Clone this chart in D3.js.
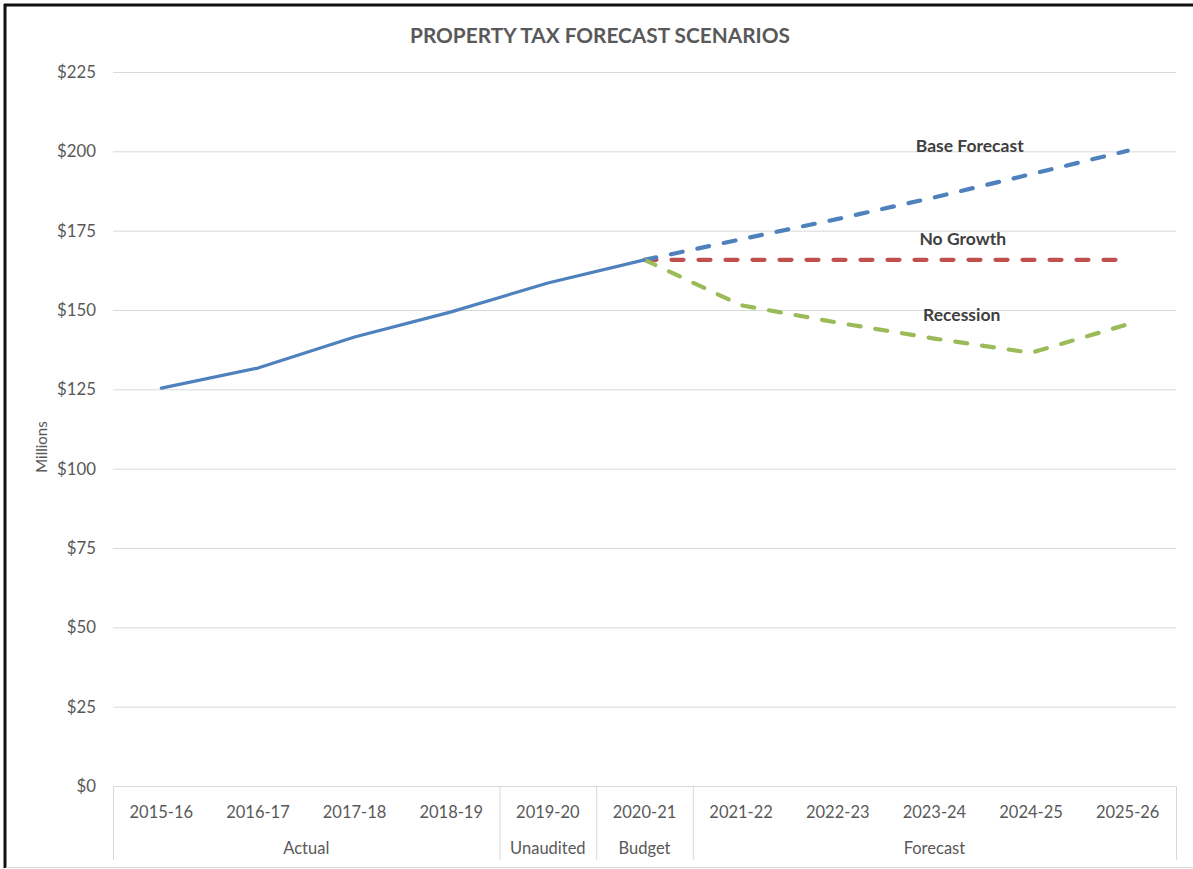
<!DOCTYPE html>
<html>
<head>
<meta charset="utf-8">
<script src="https://cdn.jsdelivr.net/npm/d3@7"></script>
<style>
  html, body { margin: 0; padding: 0; background: #fff; }
  svg text { font-family: Lato, "Open Sans", sans-serif; }
</style>
</head>
<body>
<div id="chart"></div>
<script>
// fiscal years shown on the x axis
var categories = ["2015-16", "2016-17", "2017-18", "2018-19", "2019-20", "2020-21",
                  "2021-22", "2022-23", "2023-24", "2024-25", "2025-26"];
var groupNames = ["Actual", "Unaudited", "Budget", "Forecast"];
var groupSpans = [4, 1, 1, 5];

// millions of dollars
var actual = [125.4, 131.7, 141.5, 149.4, 158.5, 165.8];
var forecastYears = ["2020-21", "2021-22", "2022-23", "2023-24", "2024-25", "2025-26"];
var baseForecast = [165.8, 172.3, 178.7, 185.5, 192.8, 200.2];
var noGrowth = [165.8, 165.8, 165.8, 165.8, 165.8, 165.8];
var recession = [165.8, 151.5, 146.0, 141.0, 136.5, 145.5];

var yTicks = [0, 25, 50, 75, 100, 125, 150, 175, 200, 225];

var W = 1193, H = 869;
var plotLeft = 113, plotRight = 1176, plotTop = 72, plotBottom = 786;

var svg = d3.select('#chart')
    .append('svg')
    .attr('width', W)
    .attr('height', H);

// outer frame
svg.append('line').attr('x1', 5).attr('x2', 5).attr('y1', 4).attr('y2', 868)
    .attr('stroke', '#111').attr('stroke-width', 3);
svg.append('line').attr('x1', 4).attr('x2', W).attr('y1', 5).attr('y2', 5)
    .attr('stroke', '#111').attr('stroke-width', 3);
svg.append('line').attr('x1', 6).attr('x2', W).attr('y1', 867.5).attr('y2', 867.5)
    .attr('stroke', '#d9d9d9').attr('stroke-width', 1);

var x = d3.scaleBand().domain(categories).range([plotLeft, plotRight]);
var y = d3.scaleLinear().domain([0, 225]).range([plotBottom, plotTop]);
function cx(c) { return x(c) + x.bandwidth() / 2; }

// title
svg.append('text')
    .attr('x', 600).attr('y', 43)
    .attr('text-anchor', 'middle')
    .attr('font-size', 20.8).attr('font-weight', 'bold')
    .attr('fill', '#595959')
    .text('PROPERTY TAX FORECAST SCENARIOS');

// gridlines + y labels
var yAxis = d3.axisLeft(y).tickValues(yTicks).tickSize(-(plotRight - plotLeft))
    .tickFormat(function(d) { return '$' + d; });
var gy = svg.append('g').attr('transform', 'translate(' + plotLeft + ',0)').call(yAxis);
gy.select('.domain').remove();
gy.selectAll('.tick line').attr('stroke', '#d9d9d9').attr('stroke-width', 1);
gy.selectAll('.tick text')
    .attr('x', -17)
    .attr('font-size', 16.8).attr('fill', '#595959')
    .style('font-family', 'Lato, sans-serif');

svg.append('text')
    .attr('transform', 'translate(47,447) rotate(-90)')
    .attr('text-anchor', 'middle')
    .attr('font-size', 15).attr('fill', '#595959')
    .text('Millions');

// category axis
svg.append('line').attr('x1', plotLeft).attr('x2', plotRight)
    .attr('y1', plotBottom + 0.5).attr('y2', plotBottom + 0.5)
    .attr('stroke', '#d9d9d9').attr('stroke-width', 1);

svg.selectAll('.cat')
    .data(categories)
    .enter()
    .append('text')
    .attr('class', 'cat')
    .attr('x', function(d) { return cx(d); })
    .attr('y', 818)
    .attr('text-anchor', 'middle')
    .attr('font-size', 16.5).attr('fill', '#595959')
    .text(function(d) { return d; });

var start = 0;
var bounds = [0];
groupSpans.forEach(function(s) { start += s; bounds.push(start); });
function edge(i) { return i < categories.length ? x(categories[i]) : plotRight; }

svg.selectAll('.sep')
    .data(bounds)
    .enter()
    .append('line')
    .attr('x1', function(i) { return edge(i) + 0.5; })
    .attr('x2', function(i) { return edge(i) + 0.5; })
    .attr('y1', plotBottom).attr('y2', 860)
    .attr('stroke', '#d9d9d9').attr('stroke-width', 1);

svg.selectAll('.grp')
    .data(groupNames)
    .enter()
    .append('text')
    .attr('x', function(d, i) { return (edge(bounds[i]) + edge(bounds[i + 1])) / 2; })
    .attr('y', 854)
    .attr('text-anchor', 'middle')
    .attr('font-size', 16.5).attr('fill', '#595959')
    .text(function(d) { return d; });

// series
var line = d3.line()
    .x(function(d) { return cx(d[0]); })
    .y(function(d) { return y(d[1]); });

function pairs(cats, vals) { return cats.map(function(c, i) { return [c, vals[i]]; }); }

svg.append('path')
    .attr('d', line(pairs(forecastYears, noGrowth)))
    .attr('fill', 'none').attr('stroke', '#c0504d').attr('stroke-width', 4.2)
    .attr('stroke-dasharray', '12,15').attr('stroke-linecap', 'round');

svg.append('path')
    .attr('d', line(pairs(forecastYears, baseForecast)))
    .attr('fill', 'none').attr('stroke', '#4f81bd').attr('stroke-width', 4.2)
    .attr('stroke-dasharray', '12,15').attr('stroke-linecap', 'round');

svg.append('path')
    .attr('d', line(pairs(forecastYears, recession)))
    .attr('fill', 'none').attr('stroke', '#9bbb59').attr('stroke-width', 4.2)
    .attr('stroke-dasharray', '12,15').attr('stroke-linecap', 'round');

svg.append('path')
    .attr('d', line(pairs(categories.slice(0, actual.length), actual)))
    .attr('fill', 'none').attr('stroke', '#4f81bd').attr('stroke-width', 3.2)
    .attr('stroke-linecap', 'round').attr('stroke-linejoin', 'round');

// series labels
var labelX = (cx("2023-24") + cx("2024-25")) / 2 - 15;
svg.append('text')
    .attr('x', labelX + 2).attr('y', y(200.2) + 1)
    .attr('text-anchor', 'middle')
    .attr('font-size', 17.5).attr('font-weight', 'bold').attr('fill', '#404040')
    .text('Base Forecast');
svg.append('text')
    .attr('x', labelX - 5).attr('y', y(170.4))
    .attr('text-anchor', 'middle')
    .attr('font-size', 17.5).attr('font-weight', 'bold').attr('fill', '#404040')
    .text('No Growth');
svg.append('text')
    .attr('x', labelX - 6).attr('y', y(146.6))
    .attr('text-anchor', 'middle')
    .attr('font-size', 17.5).attr('font-weight', 'bold').attr('fill', '#404040')
    .text('Recession');
</script>
</body>
</html>
